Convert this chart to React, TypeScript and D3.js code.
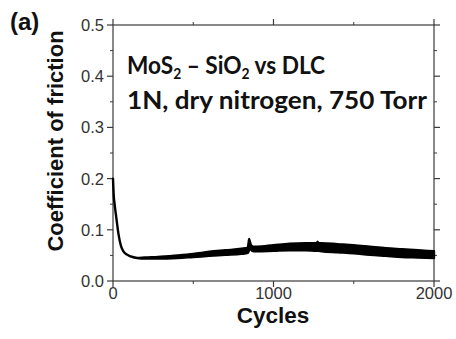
import React from "react";
import * as d3 from "d3";

// Friction trace: cycle positions with lower / upper envelope of the oscillating signal
const cycles = [0, 5, 10, 20, 35, 50, 65, 85, 110, 150, 200, 280, 400, 500, 600, 700, 800, 840, 845, 848, 852, 860, 875, 900, 1000, 1100, 1200, 1270, 1275, 1280, 1300, 1400, 1500, 1600, 1700, 1800, 1900, 2000];
const cofLower = [0.2, 0.165, 0.15, 0.125, 0.09, 0.068, 0.058, 0.052, 0.048, 0.045, 0.044, 0.044, 0.045, 0.047, 0.049, 0.051, 0.053, 0.055, 0.058, 0.062, 0.065, 0.061, 0.058, 0.058, 0.059, 0.06, 0.06, 0.059, 0.059, 0.059, 0.058, 0.056, 0.054, 0.051, 0.049, 0.047, 0.046, 0.045];
const cofUpper = [0.2, 0.165, 0.15, 0.125, 0.09, 0.068, 0.058, 0.052, 0.048, 0.045, 0.046, 0.047, 0.05, 0.053, 0.057, 0.06, 0.063, 0.065, 0.075, 0.082, 0.078, 0.07, 0.067, 0.067, 0.07, 0.073, 0.074, 0.074, 0.077, 0.074, 0.074, 0.072, 0.07, 0.067, 0.064, 0.062, 0.06, 0.058];

const xTicks = [0, 1000, 2000];
const xMinor = [500, 1500];
const yTicks = [0, 0.1, 0.2, 0.3, 0.4, 0.5];
const yMinor = [0.05, 0.15, 0.25, 0.35, 0.45];

const W = 456;
const H = 339;
const M = { left: 113, right: 434, top: 25, bottom: 281 };

export default function App() {
  const x = d3.scaleLinear().domain([0, 2000]).range([M.left, M.right]);
  const y = d3.scaleLinear().domain([0, 0.5]).range([M.bottom, M.top]);

  const pts = cycles.map((c, i) => ({ c, lo: cofLower[i], hi: cofUpper[i] }));
  const band = d3
    .area<{ c: number; lo: number; hi: number }>()
    .x((d) => x(d.c))
    .y0((d) => y(d.lo))
    .y1((d) => y(d.hi))
    .curve(d3.curveMonotoneX)(pts) as string;

  const axisCol = "#3a3a3a";
  const tickFont = "Liberation Sans, Arial, sans-serif";
  const noteFont = "Lato, Open Sans, sans-serif";

  return (
    <svg width={W} height={H} style={{ position: "absolute", left: 0, top: 0, background: "#fff" }}>
      <rect x={0} y={0} width={W} height={H} fill="#fff" />
      {/* frame */}
      <rect x={M.left} y={M.top} width={M.right - M.left} height={M.bottom - M.top} fill="none" stroke={axisCol} strokeWidth={1.2} />

      {/* y ticks left & right */}
      {yTicks.map((t) => (
        <g key={"y" + t}>
          <line x1={M.left - 6} x2={M.left} y1={y(t)} y2={y(t)} stroke={axisCol} strokeWidth={1.2} />
          <line x1={M.right} x2={M.right + 6} y1={y(t)} y2={y(t)} stroke={axisCol} strokeWidth={1.2} />
          <text x={M.left - 9} y={y(t) + 6} textAnchor="end" fontFamily={tickFont} fontSize={16.5} fill="#333">
            {t.toFixed(1)}
          </text>
        </g>
      ))}
      {yMinor.map((t) => (
        <g key={"ym" + t}>
          <line x1={M.left - 3} x2={M.left} y1={y(t)} y2={y(t)} stroke={axisCol} strokeWidth={1} />
          <line x1={M.right} x2={M.right + 3} y1={y(t)} y2={y(t)} stroke={axisCol} strokeWidth={1} />
        </g>
      ))}

      {/* x ticks bottom & top */}
      {xTicks.map((t) => (
        <g key={"x" + t}>
          <line x1={x(t)} x2={x(t)} y1={M.bottom} y2={M.bottom + 6} stroke={axisCol} strokeWidth={1.2} />
          <line x1={x(t)} x2={x(t)} y1={M.top - 6} y2={M.top} stroke={axisCol} strokeWidth={1.2} />
          <text x={x(t)} y={M.bottom + 18} textAnchor="middle" fontFamily={tickFont} fontSize={16.5} fill="#333">
            {t}
          </text>
        </g>
      ))}
      {xMinor.map((t) => (
        <g key={"xm" + t}>
          <line x1={x(t)} x2={x(t)} y1={M.bottom} y2={M.bottom + 3} stroke={axisCol} strokeWidth={1} />
          <line x1={x(t)} x2={x(t)} y1={M.top - 3} y2={M.top} stroke={axisCol} strokeWidth={1} />
        </g>
      ))}

      {/* friction trace */}
      <path d={band} fill="#000" stroke="#000" strokeWidth={2.4} strokeLinejoin="round" />

      {/* axis titles */}
      <text x={273} y={323} textAnchor="middle" fontFamily={tickFont} fontWeight="bold" fontSize={22.5} fill="#111">
        Cycles
      </text>
      <text
        transform={`translate(63,141) rotate(-90)`}
        textAnchor="middle"
        fontFamily={tickFont}
        fontWeight="bold"
        fontSize={22}
        fill="#111"
      >
        Coefficient of friction
      </text>

      {/* panel label */}
      <text x={10} y={30} fontFamily={tickFont} fontWeight="bold" fontSize={24} fill="#111">
        (a)
      </text>

      {/* test conditions */}
      <g transform="translate(127,74) scale(0.925,1)">
        <text x={0} y={0} fontFamily={noteFont} fontWeight="bold" fontSize={24.5} fill="#111">
          MoS<tspan fontSize={15} dy={5}>2</tspan>
          <tspan dy={-5}> – SiO</tspan>
          <tspan fontSize={15} dy={5}>2</tspan>
          <tspan dy={-5}> vs DLC</tspan>
        </text>
      </g>
      <text x={127} y={109} fontFamily={noteFont} fontWeight="bold" fontSize={24.5} fill="#111" textLength={300} lengthAdjust="spacingAndGlyphs">
        1N, dry nitrogen, 750 Torr
      </text>
    </svg>
  );
}
